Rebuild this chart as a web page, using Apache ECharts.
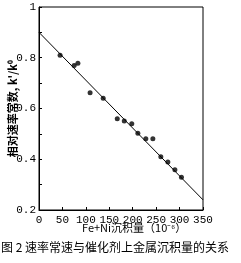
<!DOCTYPE html>
<html><head><meta charset="utf-8">
<script src="https://cdn.jsdelivr.net/npm/echarts@6/dist/echarts.min.js"></script>
<style>html,body{margin:0;padding:0;background:#fff}#c{width:241px;height:263px}</style>
</head><body><div id="c"></div>
<script>
var depositX = [45, 75, 83, 109, 137, 167, 182, 198, 211, 228, 243, 260, 275, 290, 304];
var relRate = [0.81, 0.769, 0.778, 0.662, 0.640, 0.560, 0.551, 0.540, 0.502, 0.481, 0.481, 0.410, 0.389, 0.359, 0.329];
var fitX = [0, 350];
var fitY = [0.90, 0.24];
var xTicks = [0, 50, 100, 150, 200, 250, 300, 350];
var yTicks = [0.2, 0.4, 0.6, 0.8, 1];
var xTitle = 'Fe+Ni沉积量（10⁻⁶）';
var yTitle = "相对速率常数, k'/k⁰";
var caption = '图 2 速率常速与催化剂上金属沉积量的关系';

var chart = echarts.init(document.getElementById('c'), null, {renderer: 'canvas'});
var mono = 'Liberation Mono';
var pts = depositX.map(function (x, i) { return [x, relRate[i]]; });
var fit = fitX.map(function (x, i) { return [x, fitY[i]]; });
chart.setOption({
  animation: false,
  backgroundColor: '#fff',
  grid: {left: 39, right: 38, top: 7, bottom: 53, containLabel: false, outerBoundsMode: 'none',
    show: true, borderColor: '#000', borderWidth: 1, backgroundColor: 'transparent'},
  xAxis: {
    type: 'value', min: xTicks[0], max: xTicks[xTicks.length - 1], interval: 50,
    axisLine: {lineStyle: {color: '#000', width: 1}},
    axisTick: {inside: true, length: 3, lineStyle: {color: '#000'}},
    splitLine: {show: false},
    axisLabel: {color: '#000', fontFamily: mono, fontSize: 11, margin: 5}
  },
  yAxis: {
    type: 'value', min: yTicks[0], max: yTicks[yTicks.length - 1], interval: 0.2,
    axisLine: {lineStyle: {color: '#000', width: 1}},
    axisTick: {inside: true, length: 3, lineStyle: {color: '#000'}},
    minorTick: {show: true, splitNumber: 2, length: 3, lineStyle: {color: '#000'}},
    splitLine: {show: false},
    axisLabel: {color: '#000', fontFamily: mono, fontSize: 11, margin: 3,
      formatter: function (v) { return Math.abs(v - 1) < 1e-6 ? '1' : v.toFixed(1); }}
  },
  graphic: [
    {type: 'text', left: 7, top: 60, rotation: Math.PI / 2,
      style: {text: yTitle, fill: '#000', font: 'bold 11px "Noto Sans CJK SC"'}},
    {type: 'text', left: 82, top: 222, style: {text: xTitle, fill: '#000', font: '11px "Noto Sans CJK SC"'}},
    {type: 'text', left: 1, top: 241, style: {text: caption, fill: '#000', font: '12px "Noto Sans CJK SC"'}}
  ],
  series: [
    {type: 'line', data: fit, symbol: 'none', lineStyle: {color: '#000', width: 1}, silent: true},
    {type: 'scatter', data: pts, symbol: 'circle', symbolSize: 5, itemStyle: {color: '#000'}}
  ]
});
</script></body></html>
